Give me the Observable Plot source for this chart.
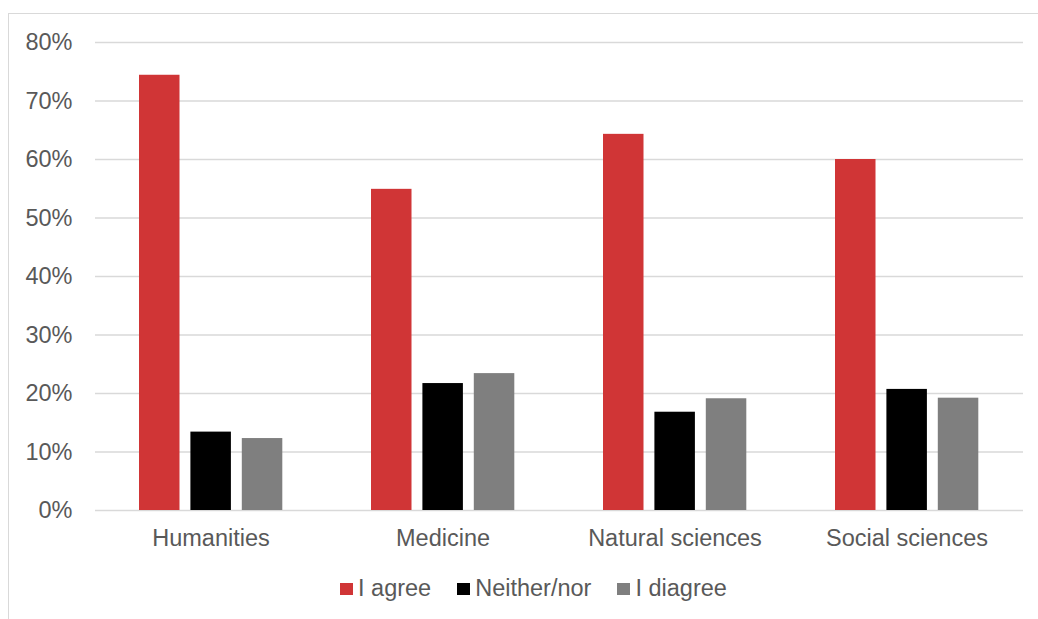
<!DOCTYPE html>
<html>
<head>
<meta charset="utf-8">
<script src="https://cdn.jsdelivr.net/npm/d3@7"></script>
<script src="https://cdn.jsdelivr.net/npm/@observablehq/plot@0.6"></script>
<style>
  html, body { margin: 0; padding: 0; overflow: hidden; background: #fff; width: 1038px; height: 619px; }
  #frame { position: absolute; left: 8px; top: 13px; width: 1100px; height: 700px; border: 1.3px solid #d9d9d9; box-sizing: border-box; }
  #chart { position: absolute; left: 0; top: 0; }
  #legend { position: absolute; left: 340px; top: 577px; display: flex; align-items: center; font-family: "Liberation Sans", Arial, sans-serif; font-size: 23.5px; line-height: 23.5px; color: #595959; white-space: nowrap; }
  .item { display: flex; align-items: center; margin-right: 26px; }
  .sw { width: 13px; height: 12px; margin-right: 5px; }
</style>
</head>
<body>
<div id="frame"></div>
<div id="chart"></div>
<div id="legend"></div>
<script>
const categories = ["Humanities", "Medicine", "Natural sciences", "Social sciences"];
const series = ["I agree", "Neither/nor", "I diagree"];
const colors = ["#d03536", "#000000", "#7f7f7f"];
const agree = [0.744, 0.549, 0.643, 0.600];
const neither = [0.134, 0.217, 0.168, 0.207];
const disagree = [0.123, 0.234, 0.191, 0.192];
const yTicks = [0, 0.1, 0.2, 0.3, 0.4, 0.5, 0.6, 0.7, 0.8];

const valuesBySeries = [agree, neither, disagree];
const data = categories.flatMap((c, i) => series.map((s, k) => ({cat: c, s, v: valuesBySeries[k][i]})));

// bar placement within each category band (band ≈ 143px wide)
const step = 51.4, barW = 40.5, band = 143;
const barMarks = series.map((s, k) =>
  Plot.barY(data.filter(d => d.s === s), {
    x: "cat", y: "v", fill: "s",
    insetLeft: k * step,
    insetRight: band - k * step - barW
  })
);

const chart = Plot.plot({
  width: 1038,
  height: 560,
  marginLeft: 95,
  marginRight: 15,
  marginTop: 42,
  marginBottom: 50,
  style: {fontFamily: "'Liberation Sans', Arial, sans-serif", fontSize: "23.5px", color: "#595959", background: "transparent"},
  x: {domain: categories, paddingInner: 0.3836, paddingOuter: 0.1918, label: null, tickSize: 0, tickPadding: 19},
  y: {domain: [0, 0.8], ticks: yTicks, tickFormat: d => Math.round(d * 100) + "%", label: null, tickSize: 0, tickPadding: 23},
  color: {domain: series, range: colors},
  marks: [
    Plot.gridY(yTicks, {stroke: "#d9d9d9", strokeOpacity: 1, strokeWidth: 1.4}),
    ...barMarks
  ]
});
document.getElementById("chart").appendChild(chart);

const legend = document.getElementById("legend");
series.forEach((s, k) => {
  const item = document.createElement("div");
  item.className = "item";
  const sw = document.createElement("span");
  sw.className = "sw";
  sw.style.background = colors[k];
  const t = document.createElement("span");
  t.textContent = s;
  item.appendChild(sw);
  item.appendChild(t);
  legend.appendChild(item);
});
</script>
</body>
</html>
